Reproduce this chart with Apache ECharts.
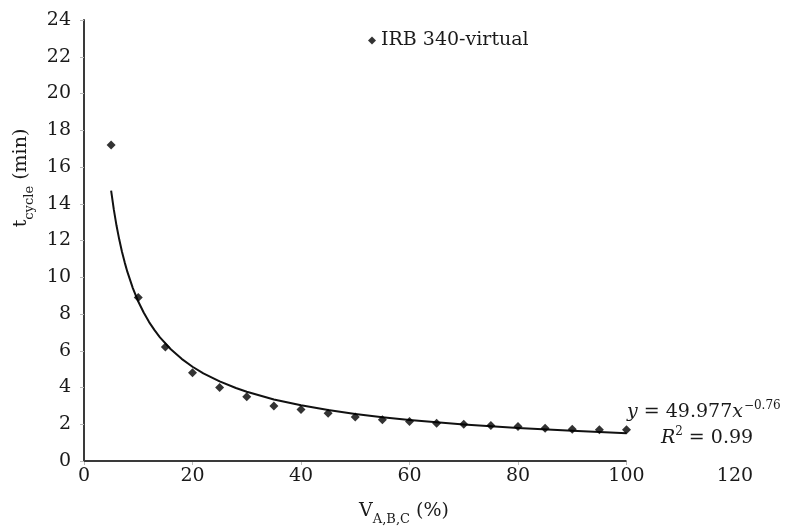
<!DOCTYPE html>
<html>
<head>
<meta charset="utf-8">
<script src="https://cdn.jsdelivr.net/npm/echarts@6/dist/echarts.min.js"></script>
<style>
  html, body { margin: 0; padding: 0; background: #fff; }
  #chart { width: 786px; height: 528px; }
</style>
</head>
<body>
<div id="chart"></div>
<script>
// ---- data ----
const seriesName = 'IRB 340-virtual';
const xValues = [5, 10, 15, 20, 25, 30, 35, 40, 45, 50, 55, 60, 65, 70, 75, 80, 85, 90, 95, 100];
const cycleTimes = [17.2, 8.9, 6.2, 4.8, 4.0, 3.5, 3.0, 2.8, 2.6, 2.4, 2.25, 2.15, 2.05, 2.0, 1.93, 1.88, 1.78, 1.73, 1.70, 1.70];
// power trendline as drawn (y = 49.977x^-0.76), read at these x positions
const trendX = [5, 5.5, 6, 6.5, 7, 7.5, 8, 9, 10, 11, 12, 13, 14, 16, 18, 20, 22, 25, 28, 30, 35, 40, 45, 50, 55, 60, 70, 80, 90, 100];
const trendY = [14.71, 13.68, 12.80, 12.05, 11.39, 10.81, 10.29, 9.41, 8.68, 8.08, 7.56, 7.12, 6.73, 6.08, 5.56, 5.13, 4.77, 4.33, 3.97, 3.77, 3.35, 3.03, 2.77, 2.56, 2.38, 2.23, 1.98, 1.79, 1.64, 1.51];
// x-axis line (and ticks) drawn only over this range
const xAxisLineRange = [0, 100];
const xTickMarks = [0, 20, 40, 60, 80, 100];
const xTickLabels = [0, 20, 40, 60, 80, 100, 120];
const yTickLabels = [0, 2, 4, 6, 8, 10, 12, 14, 16, 18, 20, 22, 24];
const equationText = { coef: '49.977', exp: '\u22120.76', r2: '0.99' };

const FONT = 'DejaVu Serif';
const TXT = '#1a1a1a';

const chart = echarts.init(document.getElementById('chart'), null, { renderer: 'canvas' });

const option = {
  animation: false,
  backgroundColor: '#ffffff',
  grid: { left: 84, right: 51, top: 20, bottom: 67, containLabel: false },
  legend: {
    data: [seriesName],
    left: 368, top: 31, padding: 0,
    icon: 'diamond', itemWidth: 8, itemHeight: 8,
    textStyle: { fontFamily: FONT, fontSize: 19, color: TXT }
  },
  xAxis: {
    type: 'value',
    min: xTickLabels[0], max: xTickLabels[xTickLabels.length - 1], interval: 20,
    axisLine: { show: false },
    axisTick: { show: true, length: 4, customValues: xTickMarks, lineStyle: { color: '#bbb', width: 1 } },
    splitLine: { show: false },
    axisLabel: { fontFamily: FONT, fontSize: 19, color: TXT, margin: 6 }
  },
  yAxis: {
    type: 'value',
    min: yTickLabels[0], max: yTickLabels[yTickLabels.length - 1], interval: 2,
    axisLine: { show: true, onZero: false, lineStyle: { color: '#3a3a3a', width: 2 } },
    axisTick: { show: true, length: 4, lineStyle: { color: '#bbb', width: 1 } },
    splitLine: { show: false },
    axisLabel: { fontFamily: FONT, fontSize: 19, color: TXT, margin: 13 }
  },
  series: [
    {
      name: 'axisline',
      type: 'line',
      data: xAxisLineRange.map(v => [v, 0]),
      symbol: 'none',
      silent: true,
      lineStyle: { color: '#3a3a3a', width: 2 },
      z: 1
    },
    {
      name: 'trend',
      type: 'line',
      data: trendX.map((x, i) => [x, trendY[i]]),
      symbol: 'none',
      smooth: false,
      lineStyle: { color: '#111', width: 2, join: 'round' },
      z: 2
    },
    {
      name: seriesName,
      type: 'scatter',
      data: xValues.map((x, i) => [x, cycleTimes[i]]),
      symbol: 'diamond',
      symbolSize: 9,
      itemStyle: { color: '#000' },
      z: 3
    }
  ],
  graphic: [
    {
      type: 'text',
      x: 24, y: 178,
      rotation: Math.PI / 2,
      style: {
        text: '{b|t}{s|cycle}{b| (min)}',
        fontFamily: FONT, fill: TXT,
        align: 'center', verticalAlign: 'middle',
        rich: {
          b: { fontFamily: FONT, fontSize: 19, fill: TXT, verticalAlign: 'bottom', padding: [0, 0, 6, 0] },
          s: { fontFamily: FONT, fontSize: 13, fill: TXT, verticalAlign: 'bottom' }
        }
      }
    },
    {
      type: 'text',
      x: 404, y: 514,
      style: {
        text: '{b|V}{s|A,B,C}{b| (%)}',
        fontFamily: FONT, fill: TXT,
        align: 'center', verticalAlign: 'middle',
        rich: {
          b: { fontFamily: FONT, fontSize: 19, fill: TXT, verticalAlign: 'bottom', padding: [0, 0, 6, 0] },
          s: { fontFamily: FONT, fontSize: 13, fill: TXT, verticalAlign: 'bottom' }
        }
      }
    },
    {
      type: 'text',
      x: 627, y: 411,
      style: {
        text: '{i|y}{b| = ' + equationText.coef + '}{i|x}{p|' + equationText.exp + '}',
        fontFamily: FONT, fill: TXT,
        align: 'left', verticalAlign: 'middle',
        rich: {
          b: { fontFamily: FONT, fontSize: 19, fill: TXT, verticalAlign: 'bottom' },
          i: { fontFamily: FONT, fontSize: 19, fontStyle: 'italic', fill: TXT, verticalAlign: 'bottom' },
          p: { fontFamily: FONT, fontSize: 12, fill: TXT, verticalAlign: 'bottom', padding: [0, 0, 10, 1] }
        }
      }
    },
    {
      type: 'text',
      x: 707, y: 437,
      style: {
        text: '{i|R}{p|2}{b| = ' + equationText.r2 + '}',
        fontFamily: FONT, fill: TXT,
        align: 'center', verticalAlign: 'middle',
        rich: {
          b: { fontFamily: FONT, fontSize: 19, fill: TXT, verticalAlign: 'bottom' },
          i: { fontFamily: FONT, fontSize: 19, fontStyle: 'italic', fill: TXT, verticalAlign: 'bottom' },
          p: { fontFamily: FONT, fontSize: 12, fill: TXT, verticalAlign: 'bottom', padding: [0, 0, 10, 0] }
        }
      }
    }
  ]
};
chart.setOption(option);
</script>
</body>
</html>
